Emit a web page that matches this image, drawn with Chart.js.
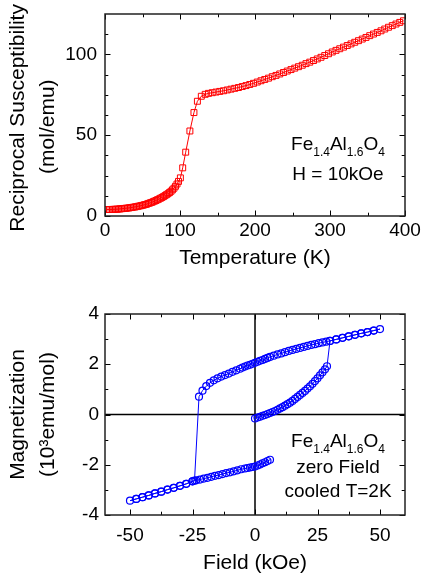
<!DOCTYPE html>
<html>
<head>
<meta charset="utf-8">
<script src="https://cdn.jsdelivr.net/npm/chart.js@4.4.1/dist/chart.umd.min.js"></script>
<style>
  html, body { margin: 0; padding: 0; background: #fff; }
  canvas { position: absolute; left: 0; }
  #susc { top: 0; }
  #loop { top: 290px; }
</style>
</head>
<body>
<canvas id="susc" width="422" height="290"></canvas>
<canvas id="loop" width="422" height="291"></canvas>
<script>
// ---- top panel: reciprocal susceptibility vs temperature ----
const tempLow = [2, 4, 6, 8, 10, 12, 14, 16, 18, 20, 22, 24, 26, 28, 30, 32, 34, 36, 38, 40,
  42, 44, 46, 48, 50, 52, 54, 56, 58, 60, 62, 64, 66, 68, 70, 72, 74, 76, 78, 80,
  82, 84, 86, 88, 90, 92, 94, 96, 98];
const chiLow = [4.0, 4.0, 4.0, 4.0, 4.1, 4.1, 4.2, 4.2, 4.3, 4.4, 4.5, 4.6, 4.7, 4.8, 4.9, 5.0, 5.2, 5.3, 5.5, 5.6,
  5.8, 6.0, 6.2, 6.4, 6.6, 6.9, 7.1, 7.4, 7.8, 8.1, 8.4, 8.8, 9.2, 9.6, 10.1, 10.5, 11.0, 11.5, 12.0, 12.6,
  13.2, 13.8, 14.5, 15.3, 16.2, 17.2, 18.4, 19.8, 21.4];
const tempMid = [100.5, 103.6, 107.6, 113.2, 118.6, 123.2, 128.4, 133.6];
const chiMid = [23.6, 29.8, 39.5, 52.6, 64.0, 71.0, 74.1, 75.3];
const tempHigh = [138, 143, 148, 153, 158, 163, 168, 173, 178, 183, 188, 193, 198, 203, 208, 213, 218, 223,
  228, 233, 238, 243, 248, 253, 258, 263, 268, 273, 278, 283, 288, 293, 298, 303, 308, 313, 318, 323,
  328, 333, 338, 343, 348, 353, 358, 363, 368, 373, 378, 383, 388, 393, 398];
const chiHigh = [75.9, 76.3, 76.7, 77.1, 77.5, 78.0, 78.5, 79.0, 79.5, 80.1, 80.7, 81.4, 82.1, 82.9, 83.7, 84.5, 85.3, 86.2,
  87.0, 87.9, 88.8, 89.7, 90.6, 91.5, 92.4, 93.3, 94.3, 95.2, 96.2, 97.2, 98.2, 99.3, 100.4, 101.5, 102.5, 103.5, 104.5, 105.5,
  106.5, 107.5, 108.5, 109.5, 110.5, 111.6, 112.6, 113.6, 114.6, 115.7, 116.8, 117.8, 118.8, 119.8, 120.8];
const tempTicks = [0, 100, 200, 300, 400];
const tempMinor = [50, 150, 250, 350];
const chiTicks = [0, 50, 100];
const chiMinor = [12.5, 25, 37.5, 62.5, 75, 87.5, 112.5];

// ---- bottom panel: magnetization loop, in measuring order ----
const virginField = [0, 1, 2, 3, 4, 5, 6, 7, 8, 9, 10, 11, 12, 13, 14, 15, 16, 17, 18, 19, 20, 21, 22, 23, 24, 25, 26, 27, 28, 28.8];
const virginMag = [-0.16, -0.12, -0.09, -0.05, -0.02, 0.02, 0.06, 0.10, 0.14, 0.19, 0.24, 0.29, 0.35, 0.41, 0.47, 0.54,
  0.62, 0.70, 0.78, 0.86, 0.94, 1.03, 1.12, 1.22, 1.33, 1.44, 1.56, 1.68, 1.80, 1.92];
const highField = [30, 32.5, 35, 37.5, 40, 42.5, 45, 47.5, 50, 47.5, 45, 42.5, 40, 37.5, 35, 32.5, 30];
const highMag = [2.93, 2.99, 3.05, 3.11, 3.17, 3.23, 3.28, 3.34, 3.40, 3.34, 3.28, 3.23, 3.17, 3.11, 3.05, 2.99, 2.93];
const upperField = [28.5, 27, 25.5, 24, 22.5, 21, 19.5, 18, 16.5, 15, 13.5, 12, 10.5, 9, 7.5, 6, 5, 4, 3, 2, 1, 0,
  -1, -2, -3, -4, -5, -6, -7.5, -9, -10.5, -12, -13.5, -15, -16.5, -18, -19.5, -21, -22.4];
const upperMag = [2.90, 2.87, 2.84, 2.80, 2.77, 2.73, 2.69, 2.65, 2.61, 2.57, 2.53, 2.48, 2.43, 2.39, 2.34, 2.29, 2.25, 2.21, 2.17, 2.14, 2.10, 2.06,
  2.02, 1.98, 1.95, 1.91, 1.87, 1.82, 1.76, 1.70, 1.63, 1.57, 1.51, 1.44, 1.36, 1.26, 1.13, 0.95, 0.71];
const lowField = [-24.2, -25, -27.5, -30, -32.5, -35, -37.5, -40, -42.5, -45, -47.5, -50,
  -47.5, -45, -42.5, -40, -37.5, -35, -32.5, -30, -27.5, -25];
const lowMag = [-2.63, -2.66, -2.76, -2.84, -2.92, -2.99, -3.07, -3.14, -3.22, -3.29, -3.36, -3.43,
  -3.36, -3.29, -3.22, -3.14, -3.07, -2.99, -2.92, -2.84, -2.76, -2.66];
const returnField = [-23.5, -22, -20.5, -19, -17.5, -16, -14.5, -13, -11.5, -10, -8.5, -7, -5.5, -4, -3, -2, -1, 0, 1, 2, 3, 4, 5, 6];
const returnMag = [-2.62, -2.59, -2.55, -2.52, -2.48, -2.44, -2.41, -2.37, -2.33, -2.30, -2.26, -2.22, -2.18, -2.15, -2.13, -2.11,
  -2.09, -2.07, -2.03, -1.99, -1.94, -1.90, -1.85, -1.80];
const fieldTicks = [-50, -25, 0, 25, 50];
const fieldMinor = [-37.5, -12.5, 12.5, 37.5];
const magTicks = [-4, -2, 0, 2, 4];
const magMinor = [-3, -1, 1, 3];

const FONT = '"Liberation Sans", Arial, sans-serif';
Chart.defaults.font.family = FONT;
Chart.defaults.color = '#000';

const toPoints = (xs, ys) => xs.map((x, i) => ({ x: x, y: ys[i] }));

// inward tick marks on all four sides plus the frame
const frameTicks = {
  id: 'frameTicks',
  afterDatasetsDraw(chart, args, opts) {
    const { ctx, chartArea: a, scales } = chart;
    ctx.save();
    ctx.strokeStyle = '#000';
    ctx.lineWidth = 1;
    const mark = (scale, values, len) => {
      values.forEach(v => {
        const p = Math.round(scale.getPixelForValue(v)) + 0.5;
        ctx.beginPath();
        if (scale.isHorizontal()) {
          ctx.moveTo(p, a.bottom); ctx.lineTo(p, a.bottom - len);
          ctx.moveTo(p, a.top); ctx.lineTo(p, a.top + len);
        } else {
          ctx.moveTo(a.left, p); ctx.lineTo(a.left + len, p);
          ctx.moveTo(a.right, p); ctx.lineTo(a.right - len, p);
        }
        ctx.stroke();
      });
    };
    mark(scales.x, opts.xMajor, 5.5);
    mark(scales.x, opts.xMinor, 3.3);
    mark(scales.y, opts.yMajor, 5.5);
    mark(scales.y, opts.yMinor, 3.3);
    ctx.lineWidth = 1.5;
    ctx.strokeStyle = '#222';
    ctx.strokeRect(a.left, a.top, a.width, a.height);
    ctx.restore();
  }
};

// black lines through the origin
const zeroLines = {
  id: 'zeroLines',
  beforeDatasetsDraw(chart, args, opts) {
    if (!opts.show) return;
    const { ctx, chartArea: a, scales } = chart;
    const x0 = scales.x.getPixelForValue(0);
    const y0 = scales.y.getPixelForValue(0);
    ctx.save();
    ctx.strokeStyle = '#000';
    ctx.lineWidth = 1.5;
    ctx.beginPath();
    ctx.moveTo(x0, a.top); ctx.lineTo(x0, a.bottom);
    ctx.moveTo(a.left, y0); ctx.lineTo(a.right, y0);
    ctx.stroke();
    ctx.restore();
  }
};

// text labels with subscripts
const labelText = {
  id: 'labelText',
  afterDraw(chart, args, opts) {
    const ctx = chart.ctx;
    ctx.save();
    ctx.fillStyle = '#000';
    ctx.textBaseline = 'alphabetic';
    ctx.textAlign = 'left';
    opts.lines.forEach(line => {
      let total = 0;
      line.parts.forEach(([t, sub]) => {
        ctx.font = (sub ? 12 : 19) + 'px ' + FONT;
        total += ctx.measureText(t).width;
      });
      let x = opts.cx - total / 2;
      line.parts.forEach(([t, sub]) => {
        ctx.font = (sub ? 12 : 19) + 'px ' + FONT;
        ctx.fillText(t, x, line.y + (sub ? 6 : 0));
        x += ctx.measureText(t).width;
      });
    });
    ctx.restore();
  }
};

const formula = [['Fe', false], ['1.4', true], ['Al', false], ['1.6', true], ['O', false], ['4', true]];

// the plot box is fixed by layout padding, so drop the label overhang padding
function noOverhang(axis) {
  axis.paddingTop = 0;
  axis.paddingBottom = 0;
  axis.paddingLeft = 0;
  axis.paddingRight = 0;
}

function axisX(min, max, ticks, title, pad, titlePad, height) {
  return {
    type: 'linear', min: min, max: max,
    grid: { display: false, drawTicks: false },
    border: { display: false },
    afterBuildTicks: axis => { axis.ticks = ticks.map(v => ({ value: v })); },
    afterFit: axis => { axis.height = height; noOverhang(axis); },
    ticks: { padding: pad, font: { size: 19 }, maxRotation: 0, autoSkip: false },
    title: { display: true, text: title, font: { size: 21 }, padding: { top: 0, bottom: titlePad } }
  };
}

function axisY(min, max, ticks, title, pad) {
  return {
    type: 'linear', min: min, max: max,
    grid: { display: false, drawTicks: false },
    border: { display: false },
    afterBuildTicks: axis => { axis.ticks = ticks.map(v => ({ value: v })); },
    afterFit: axis => { axis.width = 105; noOverhang(axis); },
    ticks: { padding: pad, font: { size: 19 }, autoSkip: false },
    title: { display: true, text: title, font: { size: 21, lineHeight: '30px' }, padding: { top: 3, bottom: 0 } }
  };
}

new Chart(document.getElementById('susc'), {
  type: 'scatter',
  data: {
    datasets: [{
      data: toPoints(tempLow.concat(tempMid, tempHigh), chiLow.concat(chiMid, chiHigh)),
      showLine: true,
      borderColor: '#ff0000',
      borderWidth: 1,
      pointStyle: 'rect',
      pointRadius: 4.2,
      pointBorderWidth: 1,
      pointBorderColor: '#ff0000',
      pointBackgroundColor: 'rgba(0,0,0,0)'
    }]
  },
  options: {
    responsive: false,
    animation: false,
    devicePixelRatio: 1,
    layout: { autoPadding: false, padding: { left: 0, right: 17, top: 14, bottom: 0 } },
    scales: {
      x: axisX(0, 400, tempTicks, 'Temperature (K)', 3, 19, 74),
      // trailing no-break spaces nudge each rotated line down a little
      y: axisY(0, 125, chiTicks, ['Reciprocal Susceptibility\u00A0', '(mol/emu)\u00A0\u00A0\u00A0\u00A0'], 8)
    },
    plugins: {
      legend: { display: false },
      tooltip: { enabled: false },
      frameTicks: { xMajor: tempTicks, xMinor: tempMinor, yMajor: chiTicks, yMinor: chiMinor },
      labelText: { cx: 338, lines: [{ parts: formula, y: 150 }, { parts: [['H = 10kOe', false]], y: 180 }] }
    }
  },
  plugins: [frameTicks, labelText]
});

new Chart(document.getElementById('loop'), {
  type: 'scatter',
  data: {
    datasets: [{
      data: toPoints(virginField.concat(highField, upperField, lowField, returnField),
        virginMag.concat(highMag, upperMag, lowMag, returnMag)),
      showLine: true,
      borderColor: '#0000ff',
      borderWidth: 1,
      pointStyle: 'circle',
      pointRadius: 3.5,
      pointBorderWidth: 1.2,
      pointBorderColor: '#0000ff',
      pointBackgroundColor: 'rgba(0,0,0,0)'
    }]
  },
  options: {
    responsive: false,
    animation: false,
    devicePixelRatio: 1,
    layout: { autoPadding: false, padding: { left: 0, right: 17, top: 24, bottom: 0 } },
    scales: {
      x: axisX(-60, 60, fieldTicks, 'Field (kOe)', 9, 5, 66),
      y: axisY(-4, 4, magTicks, ['Magnetization', '(10\u00B3emu/mol)'], 6)
    },
    plugins: {
      legend: { display: false },
      tooltip: { enabled: false },
      zeroLines: { show: true },
      frameTicks: { xMajor: fieldTicks, xMinor: fieldMinor, yMajor: magTicks, yMinor: magMinor },
      labelText: {
        cx: 338,
        lines: [
          { parts: formula, y: 157 },
          { parts: [['zero Field', false]], y: 183 },
          { parts: [['cooled T=2K', false]], y: 207 }
        ]
      }
    }
  },
  plugins: [zeroLines, frameTicks, labelText]
});
</script>
</body>
</html>
